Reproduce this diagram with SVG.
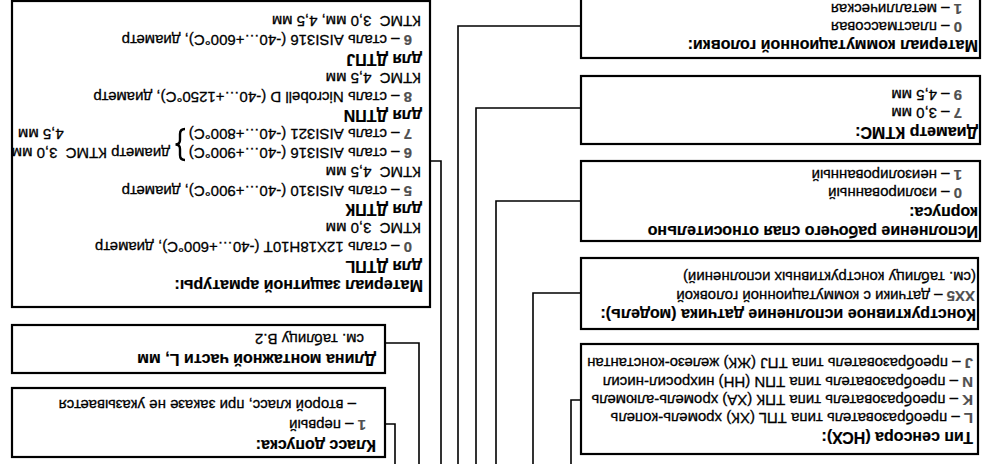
<svg xmlns="http://www.w3.org/2000/svg" width="983" height="464" viewBox="0 0 983 464">
<style>
text{font-family:"Liberation Sans",Arial,sans-serif;font-size:15px;fill:#000;stroke:#000;stroke-width:0.3}
.b{font-weight:bold;font-size:16px;stroke-width:0.2}
.c{font-weight:bold;fill:#505050;stroke:#505050;stroke-width:0.2}
.box{fill:none;stroke:#000;stroke-width:2.2}
.ln{fill:none;stroke:#000;stroke-width:1.6}
</style>
<rect x="0" y="0" width="983" height="464" fill="#fff"/>
<g transform="rotate(180 491.5 232)">
<g id="connectors">
<path class="ln" d="M402,64 H412 V-2"/>
<path class="ln" d="M402,171 H450 V-2"/>
<path class="ln" d="M402,263 H487 V-2"/>
<path class="ln" d="M402,356 H507 V-2"/>
<path class="ln" d="M402,438 H525 V-2"/>
<path class="ln" d="M553,303 H542 V-2"/>
<path class="ln" d="M598,121 H564 V-2"/>
<path class="ln" d="M598,40 H588 V-2"/>
</g>
<g id="sensor">
<rect class="box" x="5" y="10" width="397" height="110"/>
<text class="b" x="10" y="32.5">Тип сенсора (НСХ):</text>
<text x="10" y="51.5"><tspan class="c">L</tspan> – преобразователь типа ТПL (ХК) хромель-копель</text>
<text x="10" y="69.5"><tspan class="c">K</tspan> – преобразователь типа ТПК (ХА) хромель-алюмель</text>
<text x="10" y="87.5"><tspan class="c">N</tspan> – преобразователь типа ТПN (НН) нихросил-нисил</text>
<text x="10" y="106.5"><tspan class="c">J</tspan> – преобразователь типа ТПJ (ЖК) железо-константан</text>
</g>
<g id="model">
<rect class="box" x="5" y="135" width="397" height="71"/>
<text class="b" x="7" y="155">Конструктивное исполнение датчика (модель):</text>
<text x="8" y="173.5"><tspan class="c">XX5</tspan> – датчики с коммутационной головкой</text>
<text x="7" y="192">(см. таблицу конструктивных исполнений)</text>
</g>
<g id="junction">
<rect class="box" x="3" y="223" width="399" height="80"/>
<text class="b" x="5" y="238.5">Исполнение рабочего спая относительно</text>
<text class="b" x="5" y="257.5">корпуса:</text>
<text x="21" y="276.5"><tspan class="c">0</tspan> – изолированный</text>
<text x="21" y="294.5"><tspan class="c">1</tspan> – неизолированный</text>
</g>
<g id="diameter">
<rect class="box" x="3" y="320" width="399" height="68"/>
<text class="b" x="5" y="337.5">Диаметр КТМС:</text>
<text x="21" y="356.5"><tspan class="c">7</tspan> – 3,0 мм</text>
<text x="21" y="374.5"><tspan class="c">9</tspan> – 4,5 мм</text>
</g>
<g id="head">
<rect class="box" x="3" y="406" width="399" height="70"/>
<text class="b" x="5" y="424">Материал коммутационной головки:</text>
<text x="21" y="442.5"><tspan class="c">0</tspan> – пластмассовая</text>
<text x="21" y="460"><tspan class="c">1</tspan> – металлическая</text>
</g>
<g id="armor">
<rect class="box" x="553" y="157" width="418" height="306"/>
<text class="b" x="560" y="184.5">Материал защитной арматуры:</text>
<text class="b" x="561" y="203.3">для ДТПL</text>
<text x="571" y="222"><tspan class="c">0</tspan> – сталь 12Х18Н10Т (-40…+600°С), диаметр</text>
<text x="562" y="241">КТМС&#160;&#160;3,0 мм</text>
<text class="b" x="561" y="260">для ДТПК</text>
<text x="571" y="278.5"><tspan class="c">5</tspan> – сталь AISI310 (-40…+900°С), диаметр</text>
<text x="562" y="297">КТМС&#160;&#160;4,5 мм</text>
<text x="571" y="316"><tspan class="c">6</tspan> – сталь AISI316 (-40…+900°С)</text>
<text x="571" y="335"><tspan class="c">7</tspan> – сталь AISI321 (-40…+800°С)</text>
<path d="M798,304 Q803,304 803,309 L803,315 Q803,319.5 807.5,319.5 Q803,319.5 803,324 L803,330 Q803,335 798,335" fill="none" stroke="#000" stroke-width="2.4"/>
<text x="813" y="316">диаметр КТМС&#160;&#160;3,0 мм</text>
<text x="965" y="335" text-anchor="end">4,5 мм</text>
<text class="b" x="561" y="354">для ДТПN</text>
<text x="571" y="372.5"><tspan class="c">8</tspan> – сталь Nicrobell D (-40…+1250°С), диаметр</text>
<text x="562" y="391">КТМС&#160;&#160;4,5 мм</text>
<text class="b" x="561" y="410">для ДТПJ</text>
<text x="571" y="429"><tspan class="c">6</tspan> – сталь AISI316 (-40…+600°С), диаметр</text>
<text x="562" y="448">КТМС&#160;&#160;3,0 мм, 4,5 мм</text>
</g>
<g id="length">
<rect class="box" x="598" y="91" width="373" height="48"/>
<text class="b" x="607" y="110.5">Длина монтажной части L, мм</text>
<text x="619" y="130.5">см. таблицу В.2</text>
</g>
<g id="class">
<rect class="box" x="598" y="7" width="373" height="69"/>
<text class="b" x="607" y="24.5">Класс допуска:</text>
<text x="617" y="44.5"><tspan class="c">1</tspan> – первый</text>
<text x="627" y="64.5">– второй класс, при заказе не указывается</text>
</g>
</g>
</svg>
